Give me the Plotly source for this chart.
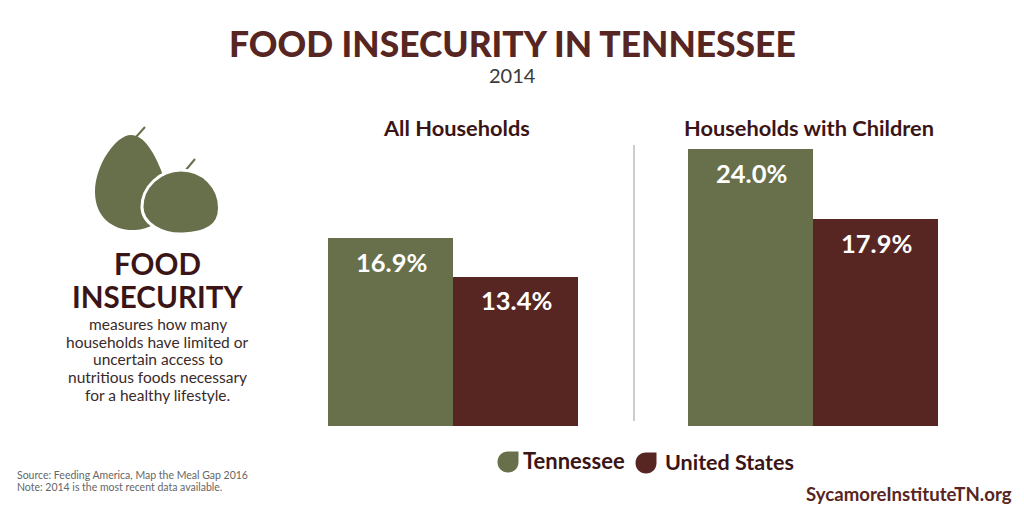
import plotly.graph_objects as go

W, H = 1024, 512
series = ["Tennessee", "United States"]
all_households = [16.9, 13.4]
with_children = [24.0, 17.9]
panel_titles = ["All Households", "Households with Children"]
OLIVE = "#68704B"
MAROON = "#582622"
DARK = "#3B1515"
FONT = "Lato"

def px(x): return x / W
def py(y): return 1 - y / H

def path(cmds):
    out = []
    for c in cmds:
        if isinstance(c, str):
            out.append(c)
        else:
            out.append(f"{px(c[0]):.5f},{py(c[1]):.5f}")
    return " ".join(out)

fig = go.Figure()
colors = [OLIVE, MAROON]
for vals, xa, ya in [(all_households, "x", "y"), (with_children, "x2", "y2")]:
    fig.add_trace(go.Bar(
        x=series, y=vals, xaxis=xa, yaxis=ya, width=1,
        marker=dict(color=colors, line=dict(width=0)),
        showlegend=False, hoverinfo="skip"))
    for s, v in zip(series, vals):
        fig.add_annotation(x=s, y=v, xref=xa, yref=ya, yshift=-23.5, xshift=0.5, text=f"{v:.1f}%", showarrow=False,
                           xanchor="center", yanchor="middle",
                           font=dict(family=FONT, size=25.5, color="white", weight=700))

ax = dict(showgrid=False, zeroline=False, showticklabels=False, ticks="", showline=False)
top, base = 149, 426
fig.update_layout(
    width=W, height=H, margin=dict(l=0, r=0, t=0, b=0), autosize=False,
    paper_bgcolor="white", plot_bgcolor="white", bargap=0,
    xaxis=dict(domain=[px(328), px(578)], range=[-0.5, 1.5], **ax),
    xaxis2=dict(domain=[px(688), px(938)], range=[-0.5, 1.5], **ax),
    yaxis=dict(domain=[py(base), py(top)], range=[0, 24.9], **ax),
    yaxis2=dict(domain=[py(base), py(top)], range=[0, 24.0], **ax),
)

def text(t, x, y, size, color=DARK, weight=400, anchor="center", family=FONT):
    fig.add_annotation(text=t, x=px(x), y=py(y), xref="paper", yref="paper", showarrow=False,
                       xanchor=anchor, yanchor="middle", align=anchor,
                       font=dict(family=family, size=size, color=color, weight=weight))

text("FOOD INSECURITY IN TENNESSEE", 512, 43, 35.4, MAROON, 900)
text("2014", 512, 75, 20, "#3a3a3a")
text(panel_titles[0], 456, 127, 21.8, DARK, 700)
text(panel_titles[1], 809, 127, 21.8, DARK, 700)
text("FOOD", 157, 263, 29.6, DARK, 700)
text("INSECURITY", 157.5, 296, 29.6, DARK, 700)
for t, y in zip(["measures how many", "households have limited or", "uncertain access to",
                 "nutritious foods necessary", "for a healthy lifestyle."],
                [324, 342, 359, 377, 395]):
    text(t, 157.5, y, 15.5, "#3a2a2a")
text("Tennessee", 521, 460, 22, DARK, 700, "left")
text("United States", 663, 462, 21.5, DARK, 700, "left")
text("Source: Feeding America, Map the Meal Gap 2016", 15, 475, 10.5, "#666666", 400, "left")
text("Note: 2014 is the most recent data available.", 15, 487, 10.5, "#666666", 400, "left")
text("SycamoreInstituteTN.org", 1014, 494, 18.6, MAROON, 700, "right")

shapes = [dict(type="line", xref="paper", yref="paper", x0=px(634), x1=px(634), y0=py(145), y1=py(421),
               line=dict(color="#9a9a9a", width=1))]

def fill(cmds, color, lw=0, lc="white"):
    shapes.append(dict(type="path", xref="paper", yref="paper", path=path(cmds), fillcolor=color,
                       line=dict(color=lc, width=lw), layer="above"))

def stroke(x0, y0, x1, y1):
    shapes.append(dict(type="line", xref="paper", yref="paper", x0=px(x0), y0=py(y0), x1=px(x1), y1=py(y1),
                       line=dict(color=OLIVE, width=2), layer="above"))

stroke(136, 137, 145, 127)
stroke(185, 171, 195, 159)
# large pear
fill(["M", (131, 135), "C", (116, 135), (95, 165), (95, 192), "C", (95, 218), (114, 231), (135, 230),
      "C", (165, 229), (172, 200), (161, 170), "C", (153, 150), (143, 135), (131, 135), "Z"], OLIVE)
# small pear with white outline
fill(["M", (181, 170), "C", (160, 170), (142, 187), (142, 207), "C", (142, 224), (163, 235), (183, 234),
      "C", (206, 233), (219.5, 226), (219.5, 208), "C", (219.5, 187), (203, 170), (181, 170), "Z"], OLIVE, 3)

def drop(x, y, c):
    # teardrop: corner at top right
    fill(["M", (x + 10.5, y - 10.5), "L", (x + 10.5, y), "C", (x + 10.5, y + 6), (x + 6, y + 10.5), (x, y + 10.5),
          "C", (x - 6, y + 10.5), (x - 10.5, y + 6), (x - 10.5, y), "C", (x - 10.5, y - 6), (x - 6, y - 10.5), (x, y - 10.5), "Z"], c)

drop(508, 462, OLIVE)
drop(646, 463, MAROON)
fig.update_layout(shapes=shapes)
fig.write_html("out.html", config={"displayModeBar": False}, post_script="document.body.style.margin='0';")
